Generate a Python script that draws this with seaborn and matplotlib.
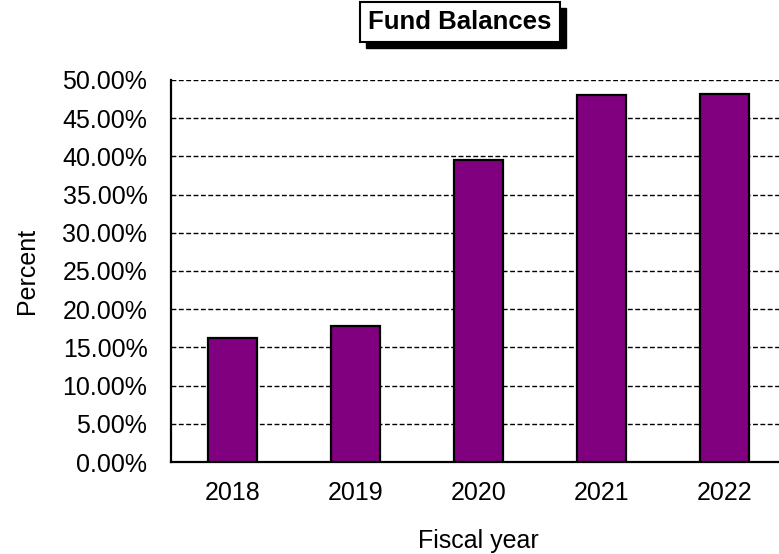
import matplotlib
matplotlib.use("Agg")
import matplotlib.pyplot as plt
from matplotlib.patches import Rectangle
from matplotlib.ticker import MultipleLocator, PercentFormatter
import seaborn as sns
import pandas as pd

# Fund balance as a percent of expenditures, by fiscal year
years = ["2018", "2019", "2020", "2021", "2022"]
percents = [16.2, 17.8, 39.5, 48.1, 48.2]

sns.set_theme(style="white")
plt.rcParams["font.family"] = ["Liberation Sans", "DejaVu Sans"]

df = pd.DataFrame({"Fiscal year": years, "Percent": percents})

fig = plt.figure(figsize=(7.79, 5.54), dpi=100)
ax = fig.add_axes([171 / 779, 92 / 554, 615 / 779, 382 / 554])

sns.barplot(data=df, x="Fiscal year", y="Percent", color="#800080",
            saturation=1, width=0.4, edgecolor="black", linewidth=1.6,
            ax=ax, zorder=3)

ax.set_xlim(-0.5, 4.5)
ax.set_ylim(0, 50)
ax.yaxis.set_major_locator(MultipleLocator(5))
ax.yaxis.set_major_formatter(PercentFormatter(decimals=2))

ax.grid(axis="y", color="black", linestyle=(0, (3.5, 1.8)), linewidth=1.0, zorder=0)
ax.set_axisbelow(True)

for side in ("top", "right"):
    ax.spines[side].set_visible(False)
for side in ("left", "bottom"):
    ax.spines[side].set_color("black")
    ax.spines[side].set_linewidth(1.6)

ax.tick_params(axis="y", length=0, pad=17, labelsize=18, colors="black")
ax.tick_params(axis="x", direction="in", length=4, width=1.4, pad=14,
               labelsize=18, colors="black", bottom=True)
for t in ax.xaxis.get_major_ticks():
    t.tick1line.set_zorder(5)

ax.set_xlabel("Fiscal year", fontsize=18, labelpad=17, color="black")
ax.set_ylabel("Percent", fontsize=18, labelpad=17, color="black")

# Boxed title with a drop shadow behind the box
title = fig.text(460 / 779, 1 - 22 / 554, "Fund Balances", color="black",
                 ha="center", va="center", fontsize=18.5, fontweight="bold",
                 bbox=dict(boxstyle="square,pad=0.32", fc="white", ec="black", lw=1.5),
                 zorder=3)
fig.canvas.draw()
box = title.get_bbox_patch().get_window_extent()
fig.add_artist(Rectangle((box.x0 + 6, box.y0 - 6), box.width, box.height,
                         transform=None, facecolor="black", edgecolor="black",
                         zorder=2))

fig.savefig("out.png", dpi=100)
